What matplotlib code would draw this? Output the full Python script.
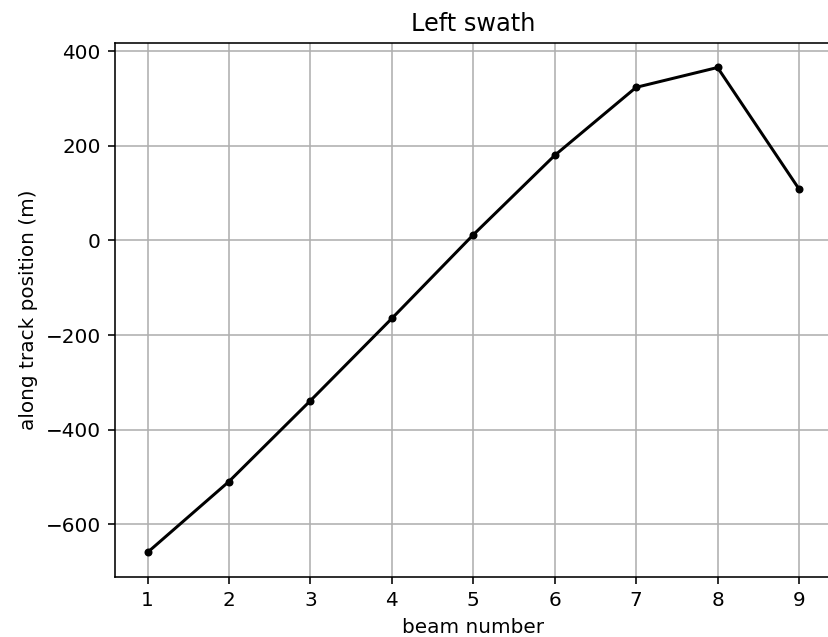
import numpy as np
import matplotlib.pyplot as plt

beam = np.arange(1, 10)
along_track = [-660, -510, -339, -165, 12, 180, 324, 366, 109]

dpi = 144
fig = plt.figure(figsize=(828 / dpi, 637 / dpi), dpi=dpi)
# axes run slightly past the right edge of the canvas
ax = fig.add_axes([0.1388, 0.0947, 0.8655, 0.8374])

ax.plot(beam, along_track, 'k.-')
ax.set_title('Left swath')
ax.set_xlabel('beam number')
ax.set_ylabel('along track position (m)')
ax.set_xticks(beam)
ax.grid(True)
ax.spines['right'].set_visible(False)

fig.savefig('out.png', dpi=dpi)
